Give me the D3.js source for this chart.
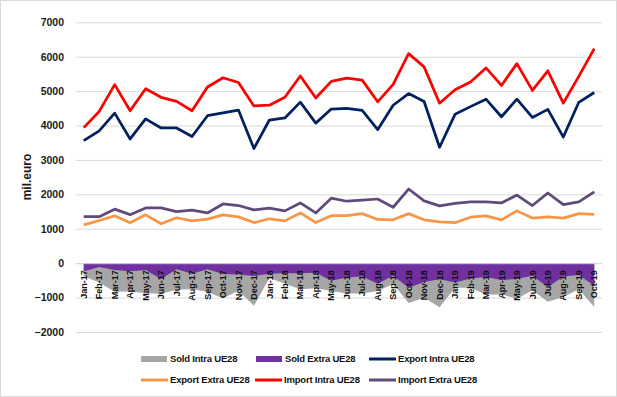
<!DOCTYPE html>
<html>
<head>
<meta charset="utf-8">
<script src="https://cdn.jsdelivr.net/npm/d3@7"></script>
<style>
  html, body { margin: 0; padding: 0; background: #fff; }
  svg { display: block; font-family: "Liberation Sans", Arial, sans-serif; }
</style>
</head>
<body>
<svg id="chart"></svg>
<script>
var months = ["Jan-17","Feb-17","Mar-17","Apr-17","May-17","Jun-17","Jul-17","Aug-17","Sep-17","Oct-17","Nov-17","Dec-17",
              "Jan-18","Feb-18","Mar-18","Apr-18","May-18","Jun-18","Jul-18","Aug-18","Sep-18","Oct-18","Nov-18","Dec-18",
              "Jan-19","Feb-19","Mar-19","Apr-19","May-19","Jun-19","Jul-19","Aug-19","Sep-19","Oct-19"];

var yTicks = [-2000, -1000, 0, 1000, 2000, 3000, 4000, 5000, 6000, 7000];

var soldIntra = [-380,-565,-830,-820,-875,-890,-770,-750,-835,-1020,-800,-1240,-430,-600,-760,-730,-805,-880,-880,-810,-605,-1160,-1005,-1280,-715,-715,-910,-910,-1035,-785,-1120,-985,-755,-1275];
var soldExtra = [-235,-110,-195,-235,-200,-460,-180,-310,-180,-315,-330,-370,-310,-290,-290,-280,-510,-415,-390,-595,-365,-715,-550,-465,-565,-445,-405,-490,-460,-365,-695,-390,-340,-655];
var exportIntra = [3560,3845,4360,3610,4195,3930,3930,3680,4285,4370,4450,3330,4160,4220,4680,4070,4480,4500,4440,3880,4590,4930,4700,3370,4325,4550,4765,4255,4765,4235,4470,3665,4675,4960];
var exportExtra = [1115,1240,1375,1175,1405,1145,1320,1230,1280,1405,1345,1180,1290,1230,1460,1180,1380,1385,1440,1270,1260,1440,1260,1200,1175,1335,1375,1260,1520,1310,1345,1310,1440,1415];
var importIntra = [3940,4410,5190,4430,5070,4820,4700,4430,5120,5390,5250,4570,4590,4820,5440,4800,5285,5380,5320,4690,5195,6090,5705,4650,5040,5265,5675,5165,5800,5020,5590,4650,5430,6235];
var importExtra = [1350,1350,1570,1410,1605,1605,1500,1540,1460,1720,1675,1550,1600,1520,1750,1460,1890,1800,1830,1865,1625,2155,1810,1665,1740,1780,1780,1750,1980,1675,2040,1700,1780,2070];

var width = 617, height = 397;
var plotLeft = 76, plotRight = 602, plotTop = 22.3, plotBottom = 332;

var svg = d3.select("#chart").attr("width", width).attr("height", height);

// outer chart border
svg.append("rect")
    .attr("x", 0.5).attr("y", 0.5)
    .attr("width", width - 1).attr("height", height - 1)
    .attr("fill", "#fff").attr("stroke", "#d9d9d9");

var x = d3.scaleBand().domain(months).range([plotLeft, plotRight]);
var y = d3.scaleLinear().domain([-2000, 7000]).range([plotBottom, plotTop]);
var cx = function(i) { return x(months[i]) + x.bandwidth() / 2; };

// gridlines + y labels
var yAxis = svg.append("g")
    .attr("transform", "translate(" + plotLeft + ",0)")
    .call(d3.axisLeft(y).tickValues(yTicks).tickFormat(d3.format("d"))
        .tickSize(-(plotRight - plotLeft)).tickSizeOuter(0).tickPadding(12));
yAxis.select(".domain").remove();
yAxis.selectAll(".tick line").attr("stroke", "#d9d9d9");
yAxis.selectAll(".tick text")
    .attr("fill", "#1a1a1a")
    .style("font-size", "10.5px")
    .style("font-weight", "bold");

svg.append("text")
    .attr("transform", "translate(31,177) rotate(-90)")
    .attr("text-anchor", "middle")
    .style("font-size", "12px")
    .style("font-weight", "bold")
    .attr("fill", "#1a1a1a")
    .text("mil.euro");

var area = function(values) {
  return d3.area()
      .x(function(d, i) { return cx(i); })
      .y0(y(0))
      .y1(function(d) { return y(d); })(values);
};

svg.append("path").attr("d", area(soldIntra)).attr("fill", "#a6a6a6");
svg.append("path").attr("d", area(soldExtra)).attr("fill", "#7030a0");

// x labels, sitting next to the zero line
var xAxis = svg.append("g")
    .attr("transform", "translate(0," + y(0) + ")")
    .call(d3.axisBottom(x).tickSize(0).tickPadding(0));
xAxis.select(".domain").attr("stroke", "#d9d9d9");
xAxis.selectAll(".tick text")
    .attr("transform", "translate(0,7) rotate(-90)")
    .attr("text-anchor", "end")
    .attr("dy", "0.35em")
    .attr("y", 0)
    .attr("x", 0)
    .attr("fill", "#111")
    .style("font-size", "9px")
    .style("font-weight", "bold");

var line = d3.line()
    .x(function(d, i) { return cx(i); })
    .y(function(d) { return y(d); });

var lines = [
  { values: exportIntra, color: "#002060" },
  { values: exportExtra, color: "#f79646" },
  { values: importIntra, color: "#ff0000" },
  { values: importExtra, color: "#604a7b" }
];

svg.selectAll(".series")
  .data(lines)
  .enter().append("path")
    .attr("class", "series")
    .attr("d", function(d) { return line(d.values); })
    .attr("fill", "none")
    .attr("stroke", function(d) { return d.color; })
    .attr("stroke-width", 2.75)
    .attr("stroke-linejoin", "round");

// legend
var legend = [
  { name: "Sold Intra UE28", color: "#a6a6a6", type: "area", lx: 141, ly: 359 },
  { name: "Sold Extra UE28", color: "#7030a0", type: "area", lx: 256, ly: 359 },
  { name: "Export Intra UE28", color: "#002060", type: "line", lx: 369, ly: 359 },
  { name: "Export Extra UE28", color: "#f79646", type: "line", lx: 141, ly: 380 },
  { name: "Import Intra UE28", color: "#ff0000", type: "line", lx: 255, ly: 380 },
  { name: "Import Extra UE28", color: "#604a7b", type: "line", lx: 369, ly: 380 }
];

var item = svg.selectAll(".legend")
  .data(legend)
  .enter().append("g")
    .attr("class", "legend")
    .attr("transform", function(d) { return "translate(" + d.lx + "," + d.ly + ")"; });

item.filter(function(d) { return d.type == "area"; })
  .append("rect")
    .attr("x", 0).attr("y", -3)
    .attr("width", 26).attr("height", 6)
    .attr("fill", function(d) { return d.color; });

item.filter(function(d) { return d.type == "line"; })
  .append("line")
    .attr("x1", 0).attr("x2", 27)
    .attr("stroke", function(d) { return d.color; })
    .attr("stroke-width", 3);

item.append("text")
    .attr("x", 29)
    .attr("dy", "0.35em")
    .attr("fill", "#111")
    .style("font-size", "9.5px")
    .style("font-weight", "bold")
    .style("letter-spacing", "-0.2px")
    .text(function(d) { return d.name; });
</script>
</body>
</html>
